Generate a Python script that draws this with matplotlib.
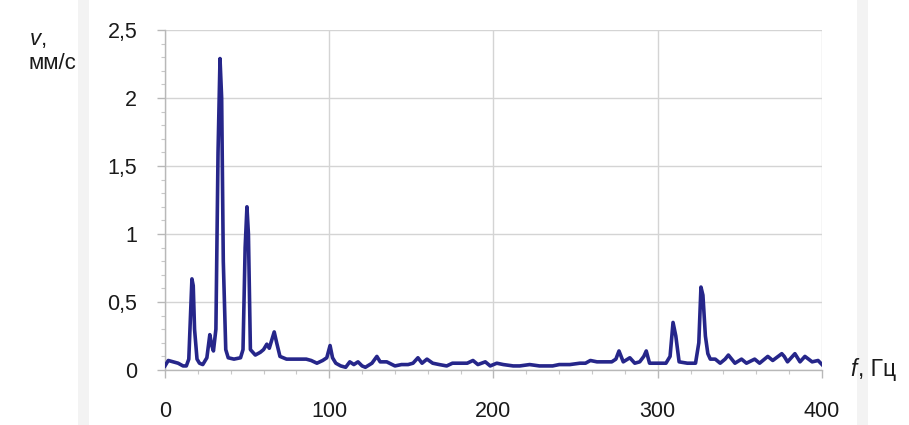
import matplotlib
matplotlib.use("Agg")
import matplotlib.pyplot as plt
from matplotlib.ticker import MultipleLocator, FuncFormatter
from matplotlib.patches import Rectangle

plt.rcParams['font.family'] = ['Liberation Sans', 'DejaVu Sans']

# Frequency, Hz
freq = [0, 2, 5, 8, 11, 13, 14.5, 15.5, 16.4, 17.2, 18, 19.5, 21, 23, 25.5,
        27.3, 28.5, 29.5, 31, 32.3, 33.5, 34.5, 35.5, 37, 38.5, 42, 46, 47.5,
        48.8, 49.9, 50.8, 52, 55, 58, 60, 62, 63.5, 65, 66.5, 68, 70, 74, 80,
        86, 89, 92.5, 96, 98.5, 100.5, 102, 104, 107, 110, 112.5, 115, 117.5,
        120, 122, 126, 129, 131, 135, 140, 144, 148, 151, 154, 156.5, 159.5,
        163, 167, 171.5, 175, 181, 184, 187.5, 190.5, 195, 198, 202, 206, 212,
        216, 222, 228, 236, 240, 246.5, 252.6, 256, 259, 263, 266.7, 272,
        274.5, 276.4, 279, 283, 286, 289, 291.5, 293, 295, 301, 305, 307.5,
        309.3, 311, 313, 318, 323, 325, 326.3, 327.5, 329, 330.5, 332, 335,
        338, 341, 343, 347, 351, 354, 359, 362, 367, 370, 375.5, 377, 379,
        383.5, 386.6, 389.6, 394, 397.6, 400]

# Vibration velocity, mm/s
velocity = [0.03, 0.07, 0.06, 0.05, 0.03, 0.03, 0.08, 0.40, 0.67, 0.62, 0.30,
            0.08, 0.05, 0.04, 0.09, 0.26, 0.18, 0.14, 0.30, 1.60, 2.29, 2.00,
            0.80, 0.15, 0.09, 0.08, 0.09, 0.15, 0.90, 1.20, 1.00, 0.15, 0.11,
            0.13, 0.15, 0.19, 0.16, 0.22, 0.28, 0.20, 0.10, 0.08, 0.08, 0.08,
            0.07, 0.05, 0.07, 0.09, 0.18, 0.09, 0.05, 0.03, 0.02, 0.06, 0.04,
            0.06, 0.03, 0.02, 0.05, 0.10, 0.06, 0.06, 0.03, 0.04, 0.04, 0.05,
            0.09, 0.05, 0.08, 0.05, 0.04, 0.03, 0.05, 0.05, 0.05, 0.07, 0.04,
            0.06, 0.03, 0.05, 0.04, 0.03, 0.03, 0.04, 0.03, 0.03, 0.04, 0.04,
            0.05, 0.05, 0.07, 0.06, 0.06, 0.06, 0.08, 0.14, 0.06, 0.09, 0.05,
            0.06, 0.10, 0.14, 0.05, 0.05, 0.05, 0.10, 0.35, 0.25, 0.06, 0.05,
            0.05, 0.20, 0.61, 0.55, 0.25, 0.12, 0.08, 0.08, 0.05, 0.08, 0.11,
            0.05, 0.08, 0.05, 0.08, 0.05, 0.10, 0.07, 0.12, 0.10, 0.06, 0.12,
            0.06, 0.10, 0.06, 0.07, 0.04]

x_ticks = [0, 100, 200, 300, 400]
y_ticks = [0, 0.5, 1.0, 1.5, 2.0, 2.5]

assert len(freq) == len(velocity)

fig = plt.figure(figsize=(9.09, 4.25), dpi=100)
fig.patch.set_facecolor('white')

# faint scan bands
fig.patches.append(Rectangle((0.086, 0.0), 0.012, 1.0, transform=fig.transFigure,
                             facecolor='#f3f3f3', edgecolor='none', zorder=0))
fig.patches.append(Rectangle((0.943, 0.0), 0.012, 1.0, transform=fig.transFigure,
                             facecolor='#f3f3f3', edgecolor='none', zorder=0))

ax = fig.add_axes([0.1815, 0.1294, 0.7228, 0.8000])
ax.set_facecolor('none')

ax.plot(freq, velocity, color='#26268a', lw=2.6, solid_joinstyle='round', zorder=3)

ax.set_xlim(0, 400)
ax.set_ylim(0, 2.5)
ax.set_xticks(x_ticks)
ax.set_yticks(y_ticks)
ax.xaxis.set_minor_locator(MultipleLocator(20))
ax.yaxis.set_minor_locator(MultipleLocator(0.1))
ax.yaxis.set_major_formatter(FuncFormatter(lambda v, p: f"{v:g}".replace('.', ',')))

ax.grid(True, which='major', color='#d4d4d4', lw=1.0, zorder=0)
for s in ['top', 'right']:
    ax.spines[s].set_visible(False)
for s in ['left', 'bottom']:
    ax.spines[s].set_color('#b8b8b8')
    ax.spines[s].set_linewidth(1.0)

ax.tick_params(axis='both', which='major', colors='#b8b8b8', labelcolor='#1a1a1a',
               labelsize=15.5, length=6, width=1)
ax.tick_params(axis='both', which='minor', colors='#c8c8c8', length=3, width=0.8)
ax.tick_params(axis='x', which='major', pad=16)
ax.tick_params(axis='y', which='major', pad=14)

fig.text(0.033, 0.908, 'v', fontsize=16, style='italic', color='#1a1a1a',
         ha='left', va='center')
fig.text(0.045, 0.908, ',', fontsize=16, color='#1a1a1a', ha='left', va='center')
fig.text(0.031, 0.851, 'мм/с', fontsize=16, color='#1a1a1a', ha='left', va='center')

fig.text(0.935, 0.130, 'f', fontsize=16.5, style='italic', color='#1a1a1a',
         ha='left', va='center')
fig.text(0.944, 0.130, ', Гц', fontsize=16.5, color='#1a1a1a', ha='left', va='center')

fig.savefig('out.png', dpi=100, facecolor='white')
